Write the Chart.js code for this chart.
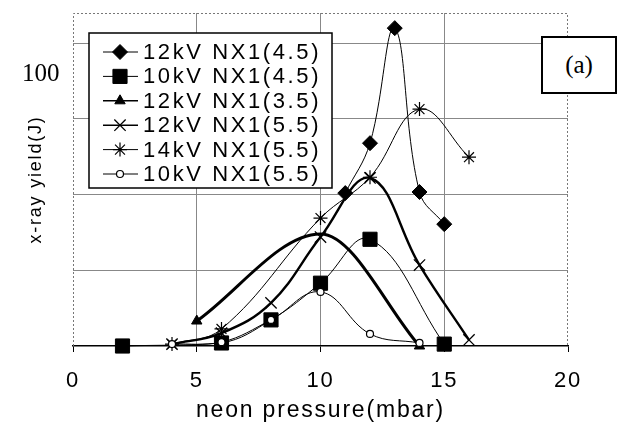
<!DOCTYPE html>
<html>
<head>
<meta charset="utf-8">
<script src="https://cdn.jsdelivr.net/npm/chart.js@4.4.1/dist/chart.umd.min.js"></script>
<style>
  html, body { margin: 0; padding: 0; background: #fff; }
  #wrap { position: relative; width: 618px; height: 426px; }
  .note { position: absolute; font-family: 'Liberation Serif', 'Times New Roman', serif; color: #000; }
  #lbl100 { left: 22px; top: 58px; font-size: 25px; line-height: 30px; }
  #tag { left: 541px; top: 36px; width: 72px; height: 54px; border: 2px solid #000; background: #fff;
         font-size: 25px; line-height: 54px; text-align: center; }
</style>
</head>
<body>
<div id="wrap">
  <canvas id="chart"></canvas>
  <div class="note" id="lbl100">100</div>
  <div class="note" id="tag">(a)</div>
</div>
<script>
/* ---- données ---- */
const xTicks = [0, 5, 10, 15, 20];
const yGrid  = [0, 20, 40, 60, 80];

const names = ['12kV NX1(4.5)', '10kV NX1(4.5)', '12kV NX1(3.5)',
               '12kV NX1(5.5)', '14kV NX1(5.5)', '10kV NX1(5.5)'];

const p12kV45 = [11, 12, 13, 14, 15];
const y12kV45 = [40.4, 53.6, 84.0, 40.7, 32.2];

const p10kV45 = [2, 6, 8, 10, 12, 15];
const y10kV45 = [0, 0.8, 6.9, 16.6, 28.2, 0.5];

const p12kV35 = [5, 10, 14];
const y12kV35 = [6.6, 29.6, 0];

const p12kV55 = [4, 6, 8, 10, 12, 14, 16];
const y12kV55 = [0.5, 3.4, 11.4, 28.8, 44.4, 21.4, 1.6];

const p14kV55 = [4, 6, 10, 12, 14, 16];
const y14kV55 = [0.5, 4.5, 33.8, 44.6, 62.6, 49.9];

const p10kV55 = [4, 6, 8, 10, 12, 14];
const y10kV55 = [0.5, 1.0, 6.9, 14.3, 3.2, 0.8];

/* ---- styles ---- */
const FONT = "'Liberation Sans', Arial, sans-serif";
const series = [
  { p: p12kV45, y: y12kV45, style: 'rectRot',  r: 7.5, fill: '#000', lw: 1,   pw: 1 },
  { p: p10kV45, y: y10kV45, style: 'rect',     r: 10,  fill: '#000', lw: 1,   pw: 1 },
  { p: p12kV35, y: y12kV35, style: 'triangle', r: 6,   fill: '#000', lw: 3,   pw: 1, hideAt: 10, mono: true },
  { p: p12kV55, y: y12kV55, style: 'crossRot', r: 8,   fill: '#000', lw: 2.4, pw: 1.3 },
  { p: p14kV55, y: y14kV55, style: 'star',     r: 7,   fill: '#000', lw: 1,   pw: 1.2 },
  { p: p10kV55, y: y10kV55, style: 'circle',   r: 3.5, fill: '#fff', lw: 1,   pw: 1.2 },
];

const datasets = series.map((s, i) => ({
  label: names[i],
  data: s.p.map((x, k) => ({ x, y: s.y[k] })),
  borderColor: '#000',
  borderWidth: s.lw,
  tension: 0.4,
  cubicInterpolationMode: s.mono ? 'monotone' : 'default',
  pointStyle: s.style,
  pointRadius: s.p.map(x => x === s.hideAt ? 0 : s.r),
  pointBackgroundColor: s.fill,
  pointBorderColor: '#000',
  pointBorderWidth: s.pw,
  clip: false,
  order: series.length - i,
}));

/* ---- espacement des lettres + cadre pointillé ---- */
const framePlugin = {
  id: 'frame',
  beforeDraw(chart) { chart.ctx.letterSpacing = '1.8px'; },
  afterDraw(chart)  { chart.ctx.letterSpacing = '0px'; },
  beforeDatasetsDraw(chart) {
    const { ctx, chartArea: a } = chart;
    ctx.save();
    ctx.strokeStyle = '#777';
    ctx.lineWidth = 1;
    ctx.setLineDash([2, 2]);
    ctx.beginPath();
    ctx.moveTo(a.left + 0.5, a.bottom);
    ctx.lineTo(a.left + 0.5, a.top + 0.5);
    ctx.lineTo(a.right - 0.5, a.top + 0.5);
    ctx.lineTo(a.right - 0.5, a.bottom);
    ctx.stroke();
    ctx.restore();
  }
};

/* ---- légende encadrée dans la zone de tracé ---- */
const legendPlugin = {
  id: 'boxLegend',
  afterDatasetsDraw(chart) {
    const ctx = chart.ctx;
    ctx.save();
    ctx.fillStyle = '#fff';
    ctx.fillRect(89, 33, 243, 155);
    ctx.strokeStyle = '#000';
    ctx.lineWidth = 1.5;
    ctx.strokeRect(89, 33, 243, 155);
    ctx.font = '22px ' + FONT;
    ctx.textBaseline = 'middle';
    series.forEach((s, i) => {
      const y = 52 + i * 24.4;
      ctx.strokeStyle = '#000';
      ctx.lineWidth = Math.min(s.lw, 1.6);
      ctx.beginPath();
      ctx.moveTo(103, y);
      ctx.lineTo(138, y);
      ctx.stroke();
      ctx.fillStyle = s.fill;
      ctx.lineWidth = s.pw;
      Chart.helpers.drawPoint(ctx, { pointStyle: s.style, radius: s.r, rotation: 0, borderWidth: s.pw }, 120, y);
      ctx.fillStyle = '#000';
      ctx.letterSpacing = '2.6px';
      ctx.fillText(names[i], 143, y + 1);
    });
    ctx.restore();
  }
};

new Chart(document.getElementById('chart'), {
  type: 'line',
  data: { datasets },
  plugins: [framePlugin, legendPlugin],
  options: {
    responsive: true,
    maintainAspectRatio: false,
    animation: false,
    layout: { padding: { top: 13, right: 50, left: 0, bottom: 0 } },
    plugins: { legend: { display: false }, tooltip: { enabled: false } },
    scales: {
      x: {
        type: 'linear', min: 0, max: 20,
        afterBuildTicks: s => { s.ticks = xTicks.map(v => ({ value: v })); },
        afterFit: s => { s.height = 80; },
        ticks: { color: '#000', font: { family: FONT, size: 22 }, padding: 16 },
        grid: {
          color: c => (c.tick && (c.tick.value === 0 || c.tick.value === 20)) ? 'rgba(0,0,0,0)' : '#888',
          lineWidth: 1, tickLength: 6, tickColor: '#000',
        },
        border: { color: '#000', width: 1.5 },
        title: { display: true, text: 'neon pressure(mbar)', color: '#000',
                 font: { family: FONT, size: 23 }, padding: { top: 0, bottom: 2 } },
      },
      y: {
        min: 0, max: 88,
        afterBuildTicks: s => { s.ticks = yGrid.map(v => ({ value: v })); },
        afterFit: s => { s.width = 73; },
        ticks: { display: false },
        grid: { color: c => (c.tick && c.tick.value === 0) ? 'rgba(0,0,0,0)' : '#888', drawTicks: false },
        border: { display: false },
        title: { display: true, text: 'x-ray yield(J)', color: '#000',
                 font: { family: FONT, size: 18 }, padding: { top: 25, bottom: 0 } },
      },
    },
  },
});
</script>
</body>
</html>
